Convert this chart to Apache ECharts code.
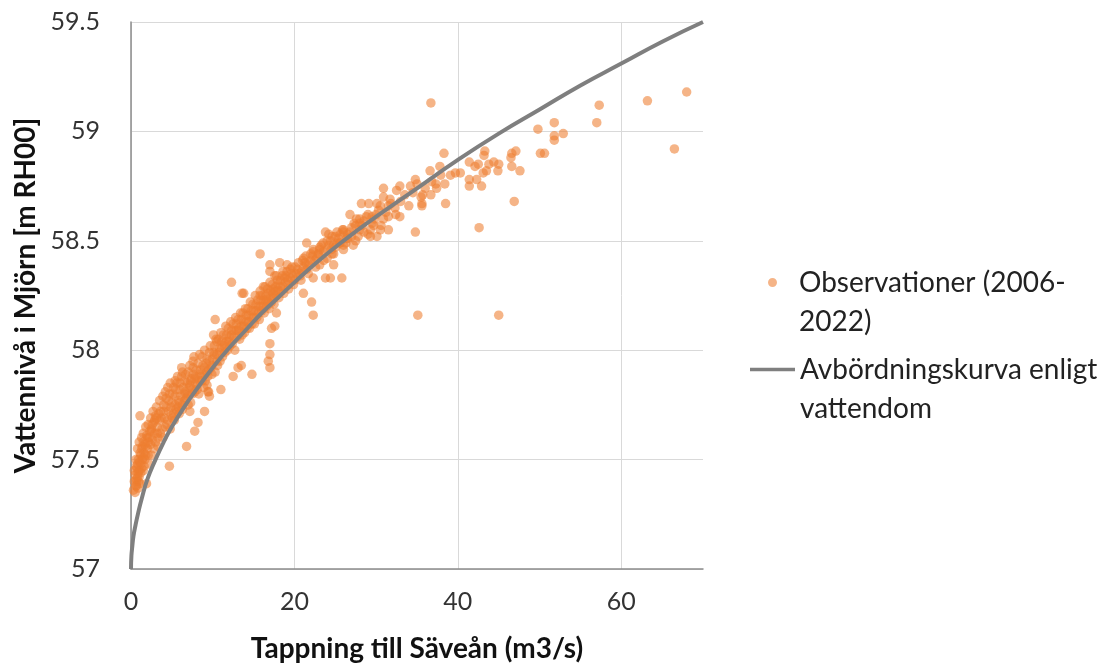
<!DOCTYPE html>
<html>
<head>
<meta charset="utf-8">
<script src="https://cdn.jsdelivr.net/npm/echarts@6/dist/echarts.min.js"></script>
<style>
html,body{margin:0;padding:0;background:#fff;}
#chart{width:1099px;height:668px;}
</style>
</head>
<body>
<div id="chart"></div>
<script>
const xTicks = [0, 20, 40, 60];
const yTicks = [57, 57.5, 58, 58.5, 59, 59.5];
const seriesNames = ['Observationer (2006-\n2022)', 'Avbördningskurva enligt\nvattendom'];

// Observations: [tappning m3/s, vattennivå m RH00]
const observations = [
  [0.3,57.36],[0.4,57.40],[0.5,57.43],[0.6,57.38],[0.7,57.46],[0.8,57.42],[0.9,57.50],[1.0,57.45],[1.1,57.53],[0.5,57.35],
  [1.2,57.48],[1.3,57.55],[1.4,57.50],[1.5,57.58],[1.6,57.53],[1.8,57.56],[1.9,57.61],[2.0,57.55],[2.2,57.60],[2.4,57.57],
  [2.5,57.64],[2.6,57.59],[2.8,57.67],[2.9,57.62],[3.0,57.70],[3.2,57.65],[3.3,57.60],[3.5,57.68],[3.6,57.72],[3.8,57.64],
  [4.0,57.75],[4.1,57.69],[4.3,57.78],[4.4,57.66],[4.6,57.72],[4.7,57.80],[4.9,57.70],[5.0,57.76],[5.2,57.83],[5.3,57.68],
  [5.4,57.79],[5.5,57.73],[5.6,57.85],[5.8,57.77],[5.9,57.71],[6.0,57.82],[6.2,57.88],[6.3,57.75],[6.5,57.80],[6.6,57.86],
  [6.8,57.78],[7.0,57.90],[7.1,57.83],[7.3,57.76],[7.4,57.87],[7.6,57.92],[7.8,57.81],[7.9,57.88],[8.1,57.84],[8.2,57.94],
  [8.4,57.86],[8.5,57.91],[8.7,57.97],[8.9,57.83],[9.0,57.89],[9.2,57.94],[9.4,57.88],[9.6,57.99],[9.8,57.92],[10.0,57.96],
  [10.2,58.02],[10.3,57.90],[10.5,57.98],[10.7,58.05],[10.9,57.95],[11.1,58.01],[11.3,58.07],[11.5,57.99],[11.7,58.04],[11.9,58.10],
  [12.1,58.02],[12.3,58.07],[12.5,58.12],[12.7,58.00],[12.9,58.09],[13.1,58.14],[13.3,58.05],[13.5,58.11],[13.7,58.17],[13.9,58.08],
  [14.1,58.13],[14.3,58.19],[14.5,58.10],[14.7,58.15],[14.9,58.21],[15.1,58.12],[15.3,58.18],[15.5,58.23],[15.7,58.14],[15.9,58.20],
  [16.1,58.25],[16.3,58.17],[16.5,58.22],[16.7,58.28],[16.9,58.19],[17.1,58.24],[17.3,58.30],[17.5,58.21],[17.7,58.27],[17.9,58.32],
  [18.1,58.24],[18.3,58.29],[18.5,58.34],[18.7,58.26],[18.9,58.31],[19.1,58.36],[19.3,58.28],[19.5,58.33],[19.7,58.38],[19.9,58.30],
  [20.2,58.35],[20.5,58.40],[20.8,58.32],[21.1,58.38],[21.4,58.43],[21.7,58.35],[22.0,58.41],[22.3,58.46],[22.6,58.38],[22.9,58.44],
  [23.3,58.48],[23.6,58.41],[24.0,58.46],[24.4,58.50],[24.8,58.44],[25.2,58.49],[25.6,58.53],[26.0,58.46],[26.5,58.51],[27.0,58.56],
  [27.5,58.50],[28.0,58.55],[28.5,58.59],[29.0,58.53],[29.5,58.58],[30.0,58.62],[30.6,58.57],[31.2,58.63],[31.8,58.67],[32.4,58.62],
  [33.0,58.68],[33.5,58.71],[34.0,58.66],[34.5,58.72],[35.0,58.76],[35.5,58.70],[36.0,58.74],
  [0.4,57.45],[0.6,57.50],[0.8,57.55],[0.9,57.40],[1.0,57.58],[1.2,57.52],[1.3,57.46],[1.5,57.62],[1.7,57.50],[1.8,57.65],
  [2.0,57.60],[2.1,57.66],[2.3,57.63],[2.4,57.69],[2.6,57.66],[2.7,57.72],[2.9,57.68],[3.1,57.74],[3.2,57.62],[3.4,57.71],
  [3.5,57.77],[3.7,57.69],[3.9,57.79],[4.0,57.72],[4.2,57.81],[4.3,57.74],[4.5,57.83],[4.6,57.77],[4.8,57.85],[4.9,57.74],
  [5.1,57.80],[5.2,57.71],[5.4,57.86],[5.5,57.82],[5.7,57.88],[5.8,57.74],[6.0,57.85],[6.1,57.79],[6.3,57.90],[6.4,57.83],
  [6.6,57.77],[6.7,57.89],[6.9,57.85],[7.0,57.80],[7.2,57.93],[7.3,57.86],[7.5,57.82],[7.6,57.89],[7.7,57.97],[7.9,57.85],
  [8.0,57.91],[8.3,57.80],[8.4,57.98],[8.6,57.88],[8.8,57.93],[9.0,58.00],[9.1,57.86],[9.3,57.96],[9.5,57.91],[9.7,58.02],
  [9.9,57.89],[10.1,57.99],[10.4,58.05],[10.6,57.93],[10.8,58.01],[11.0,58.08],[11.2,57.97],[11.4,58.03],[11.6,58.11],[11.8,58.00],
  [12.0,58.06],[12.2,58.13],[12.4,58.03],[12.6,58.09],[12.8,58.15],[13.0,58.06],[13.2,58.10],[13.4,58.17],[13.6,58.07],[13.8,58.13],
  [14.0,58.19],[14.2,58.10],[14.4,58.16],[14.6,58.22],[14.8,58.12],[15.0,58.18],[15.2,58.25],[15.4,58.15],[15.6,58.20],[15.8,58.27],
  [16.0,58.18],[16.2,58.23],[16.4,58.29],[16.6,58.20],[16.8,58.26],[17.0,58.31],[17.2,58.22],[17.4,58.28],[17.6,58.34],[17.8,58.25],
  [18.0,58.30],[18.4,58.27],[18.8,58.33],[19.2,58.30],[19.6,58.35],[20.0,58.32],[20.4,58.37],[20.9,58.36],[21.3,58.40],[21.8,58.39],
  [22.2,58.43],[22.7,58.42],[23.1,58.47],[23.5,58.45],[24.2,58.48],[24.6,58.52],[25.0,58.47],[25.4,58.51],[25.9,58.55],[26.3,58.49],
  [26.8,58.54],[27.3,58.58],[27.8,58.52],[28.3,58.57],[28.8,58.61],[29.3,58.55],[29.8,58.60],[30.3,58.64],[30.9,58.60],[31.5,58.66],
  [2.2,57.48],[2.5,57.52],[2.8,57.55],[3.0,57.58],[3.3,57.56],[3.6,57.62],[3.9,57.60],[4.2,57.65],[4.5,57.68],[4.8,57.64],
  [5.1,57.69],[5.4,57.75],[5.7,57.72],[6.0,57.76],[6.3,57.73],[6.6,57.81],[6.9,57.79],[7.2,57.84],[7.5,57.80],[7.8,57.87],
  [8.1,57.82],[8.4,57.89],[8.7,57.86],[9.0,57.92],[9.3,57.90],[9.6,57.95],[9.9,57.93],[10.2,57.98],[10.5,57.95],[10.8,57.99],
  [11.1,58.04],[11.4,58.02],[11.7,58.07],[12.0,58.04],[12.3,58.09],[12.6,58.06],[12.9,58.12],[13.2,58.09],[13.5,58.14],[13.8,58.11],
  [14.1,58.16],[14.4,58.13],[14.7,58.18],[15.0,58.15],[15.3,58.21],[15.6,58.17],[15.9,58.23],[16.2,58.20],[16.5,58.25],[16.8,58.22],
  [17.1,58.27],[17.4,58.24],[17.7,58.29],[18.0,58.27],[18.3,58.32],[18.6,58.29],[18.9,58.34],[19.2,58.32],[19.5,58.37],[19.8,58.34],
  [20.1,58.38],[20.6,58.35],[21.0,58.41],[21.5,58.39],[22.0,58.44],[22.5,58.41],[23.0,58.44],[23.5,58.49],[24.0,58.50],[24.5,58.46],
  [25.0,58.52],[25.5,58.49],[26.0,58.55],[26.5,58.53],[27.0,58.52],[27.5,58.57],[28.0,58.60],[28.5,58.54],[29.0,58.62],[29.5,58.61],
  [1.0,57.42],[1.2,57.44],[1.4,57.56],[1.6,57.47],[1.8,57.52],[0.7,57.40],[0.8,57.48],[1.1,57.39],[1.3,57.60],[1.5,57.45],
  [7.8,57.63],[8.2,57.67],[9.0,57.72],[11.0,57.82],[12.5,57.88],[13.5,57.93],
  [1.1,57.70],[3.1,57.69],[6.8,57.56],[4.7,57.47],[1.9,57.39],[9.4,57.81],[9.6,57.79],[7.0,57.75],[7.2,57.72],
  [0.65,57.47],[0.86,57.44],[0.65,57.41],[0.65,57.38],[0.86,57.37],[1.06,57.49],[1.5,57.51],[1.7,57.57],[2.1,57.58],[2.5,57.63],[2.1,57.52],
  [6.2,57.92],[7.6,57.95],[10.3,58.14],[10.1,58.07],[10.5,58.04],[13.1,57.92],[14.8,57.89],[9.3,57.84],[9.5,57.81],
  [15.8,58.44],[12.3,58.31],[17.0,58.39],[18.2,58.40],[19.1,58.39],[17.0,58.36],[17.8,58.34],[18.6,58.36],
  [16.2,58.29],[17.4,58.26],[16.6,58.23],[15.8,58.25],[13.8,58.26],[13.6,58.26],
  [17.8,58.17],[17.2,58.10],[17.6,58.11],[17.0,58.03],[17.0,57.98],[16.8,57.95],[17.0,57.92],
  [21.5,58.49],[23.1,58.46],[22.3,58.45],[24.0,58.42],[23.1,58.39],[24.8,58.39],[24.6,58.44],
  [21.1,58.42],[21.5,58.37],[20.7,58.34],[22.3,58.33],[23.8,58.33],[24.4,58.33],[25.8,58.33],
  [21.1,58.26],[22.1,58.22],[22.3,58.16],
  [26.0,58.54],[25.2,58.54],[23.8,58.54],[24.2,58.53],[25.6,58.49],[26.4,58.51],[27.2,58.48],[26.0,58.48],[24.8,58.48],
  [26.8,58.62],[27.6,58.60],[28.0,58.58],[29.7,58.57],[30.5,58.55],[31.5,58.55],[30.1,58.52],[29.3,58.52],
  [28.2,58.67],[29.1,58.67],[30.1,58.67],[30.5,58.66],
  [31.7,58.69],[32.3,58.65],[32.9,58.61],[31.5,58.61],[34.8,58.54],[35.6,58.67],
  [34.8,58.78],[32.9,58.75],[32.5,58.73],[34.2,58.75],[30.9,58.74],[30.9,58.70],
  [35.1,58.16],
  [36.7,59.13],[57.3,59.12],[63.2,59.14],[68.0,59.18],[66.5,58.92],[57.0,59.04],[51.8,59.04],[49.8,59.01],
  [52.9,58.99],[51.8,58.98],[51.8,58.96],[50.1,58.90],[50.6,58.90],[47.1,58.91],[46.5,58.88],[46.6,58.90],
  [46.6,58.84],[47.6,58.82],[46.9,58.68],[45.0,58.16],[42.6,58.56],[43.3,58.91],[43.2,58.89],[41.4,58.86],
  [42.5,58.85],[42.1,58.84],[43.8,58.85],[44.4,58.86],[45.0,58.85],[44.9,58.82],[43.1,58.81],[43.5,58.82],
  [41.4,58.78],[42.3,58.78],[41.4,58.75],[42.9,58.75],[38.3,58.90],[36.6,58.82],[37.8,58.84],[37.9,58.80],
  [39.7,58.81],[40.3,58.81],[39.1,58.80],[36.8,58.77],[37.3,58.76],[37.4,58.74],[38.4,58.76],
  [36.7,58.71],[35.7,58.71],[35.6,58.66],[38.5,58.67]
];

// Rating curve
const ratingCurve = [
  [0,57.0],[0.05,57.06],[0.15,57.1],[0.3,57.15],[0.55,57.2],[0.9,57.26],[1.3,57.32],[2,57.41],[3,57.5],
  [4,57.58],[5,57.65],[6.5,57.74],[8,57.82],[10,57.92],[12,58.01],[14,58.09],[16,58.17],[18,58.24],
  [20,58.31],[23,58.41],[26,58.5],[30,58.61],[35,58.74],[40,58.87],[45,58.99],[50,59.1],[55,59.21],
  [60,59.31],[65,59.41],[70,59.5]
];

const chart = echarts.init(document.getElementById('chart'), null, {renderer: 'canvas'});
const FONT = 'Lato';
// legend icons: visible mark at the top of a taller box so it lines up with the first text line
const dotIcon = 'path://M0,4.5 A4.5,4.5 0 1 1 9,4.5 A4.5,4.5 0 1 1 0,4.5 Z M4.5,48 L4.5,48 Z';
const lineIcon = 'path://M0,0 L45,0 L45,3.6 L0,3.6 Z M22.5,42.6 L22.5,42.6 Z';
const option = {
  animation: false,
  backgroundColor: '#ffffff',
  textStyle: {fontFamily: FONT},
  grid: {left: 131, top: 22, right: 396, bottom: 97, containLabel: false},
  xAxis: {
    type: 'value', min: 0, max: 70, interval: 20,
    name: 'Tappning till Säveån (m3/s)', nameLocation: 'middle', nameGap: 66,
    nameTextStyle: {fontFamily: FONT, fontSize: 28, fontWeight: 'bold', color: '#111'},
    axisLine: {show: true, lineStyle: {color: '#8c8c8c', width: 1.5}},
    axisTick: {show: false},
    axisLabel: {fontFamily: FONT, fontSize: 25, color: '#333', margin: 20, showMaxLabel: false,
      formatter: v => xTicks.includes(v) ? String(v) : ''},
    splitLine: {show: true, lineStyle: {color: ['#d9d9d9','#d9d9d9','#d9d9d9','#d9d9d9','rgba(0,0,0,0)'], width: 1}}
  },
  yAxis: {
    type: 'value', min: 57, max: 59.5, interval: 0.5,
    name: 'Vattennivå i Mjörn [m RH00]', nameLocation: 'middle', nameGap: 89,
    nameTextStyle: {fontFamily: FONT, fontSize: 28, fontWeight: 'bold', color: '#111'},
    axisLine: {show: true, lineStyle: {color: '#8c8c8c', width: 1.5}},
    axisTick: {show: false},
    axisLabel: {fontFamily: FONT, fontSize: 25, color: '#333', margin: 31,
      formatter: v => yTicks.includes(v) ? String(v) : ''},
    splitLine: {show: true, lineStyle: {color: '#d9d9d9', width: 1}}
  },
  legend: [
    {
      data: [{name: seriesNames[0], icon: dotIcon}],
      left: 768, top: 263, orient: 'vertical', padding: 0,
      itemWidth: 9, itemHeight: 48, selectedMode: false,
      textStyle: {fontFamily: FONT, fontSize: 28, color: '#222', lineHeight: 39, padding: [0, 0, 0, 17]}
    },
    {
      data: [{name: seriesNames[1], icon: lineIcon}],
      left: 750, top: 350, orient: 'vertical', padding: 0,
      itemWidth: 45, itemHeight: 42.6, selectedMode: false,
      textStyle: {fontFamily: FONT, fontSize: 28, color: '#222', lineHeight: 39}
    }
  ],
  series: [
    {
      name: seriesNames[0], type: 'scatter', data: observations,
      symbol: 'circle', symbolSize: 9.5, z: 2,
      itemStyle: {color: '#ED7D31', opacity: 0.58, borderWidth: 0}
    },
    {
      name: seriesNames[1], type: 'line', data: ratingCurve,
      smooth: 0.5, showSymbol: false, symbol: 'none', z: 3,
      color: '#7f7f7f',
      lineStyle: {color: '#7f7f7f', width: 4},
      itemStyle: {color: '#7f7f7f'}
    }
  ]
};
chart.setOption(option);
</script>
</body>
</html>
